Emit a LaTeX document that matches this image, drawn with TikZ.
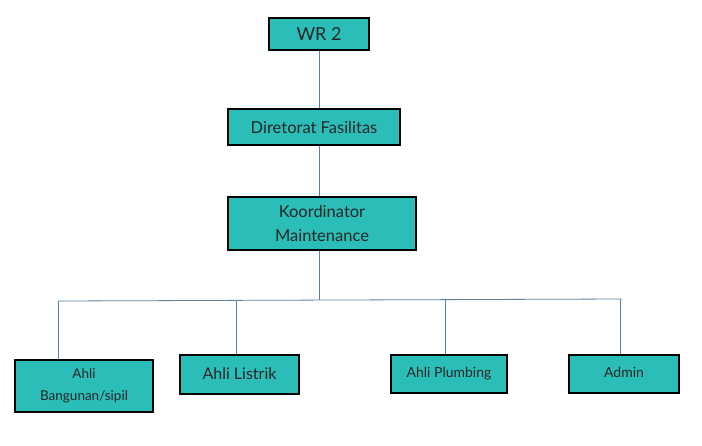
\documentclass[tikz,border=0pt]{standalone}
\usepackage{fontspec}
\setmainfont{Lato}
\definecolor{boxfill}{HTML}{2BBDB7}
\definecolor{linec}{HTML}{5A82A6}
\begin{document}
\begin{tikzpicture}[x=1pt,y=-1pt,
  box/.style={draw=black,line width=2.6pt,fill=boxfill,inner sep=0pt,align=center,text=black!85},
  conn/.style={draw=linec,line width=0.8pt}]
\useasboundingbox (0,0) rectangle (702,445);
\node[box,minimum width=100,minimum height=32,font=\fontsize{18}{20}\selectfont] (wr) at (319,34) {WR 2};
\node[box,minimum width=172,minimum height=36,font=\fontsize{16.5}{19}\selectfont] (dir) at (314,127) {Diretorat Fasilitas};
\node[box,minimum width=188,minimum height=53,font=\fontsize{16.5}{24}\selectfont] (kor) at (322,223.5) {Koordinator\\Maintenance};
\node[box,minimum width=138,minimum height=52,font=\fontsize{13.5}{22}\selectfont] (ab) at (84,386) {Ahli\\Bangunan/sipil};
\node[box,minimum width=119,minimum height=39,font=\fontsize{16}{18}\selectfont] (al) at (239.5,374.5) {\raisebox{2pt}{Ahli Listrik}};
\node[box,minimum width=116,minimum height=38,font=\fontsize{14}{16}\selectfont] (ap) at (449,374) {\raisebox{4pt}{Ahli Plumbing}};
\node[box,minimum width=110,minimum height=38,font=\fontsize{14}{16}\selectfont] (ad) at (624,374) {\raisebox{4pt}{Admin}};
\coordinate (bl) at (58,301);
\coordinate (bm) at (319,300);
\coordinate (br) at (622,299);
\coordinate (b2) at (236,300.5);
\coordinate (b3) at (445,299.5);
\coordinate (b4) at (620,299);
\draw[conn] (wr.south -| bm) -- (dir.north -| bm);
\draw[conn] (dir.south -| bm) -- (kor.north -| bm);
\draw[conn] (kor.south -| bm) -- (bm);
\draw[conn] (bl) -- (br);
\draw[conn] (bl) -- (bl |- ab.north);
\draw[conn] (b2) -- (b2 |- al.north);
\draw[conn] (b3) -- (b3 |- ap.north);
\draw[conn] (b4) -- (b4 |- ad.north);
\end{tikzpicture}
\end{document}
